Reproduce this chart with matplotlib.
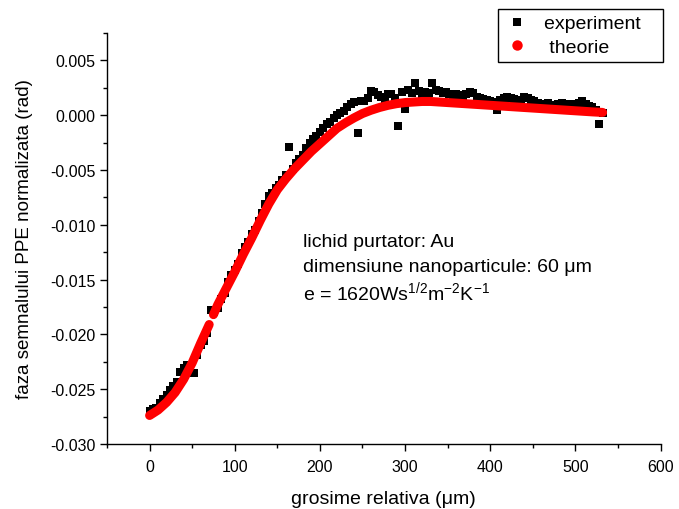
import numpy as np
import matplotlib.pyplot as plt
from matplotlib.lines import Line2D
from matplotlib.ticker import MultipleLocator, FormatStrFormatter

plt.rcParams['font.family'] = ['Liberation Sans', 'DejaVu Sans']

# experiment: thickness (um) and phase (1e-3 rad)
exp_x = [0, 4, 8, 12, 16, 20, 24, 28, 32, 36, 40, 44, 48, 52, 56, 60, 64, 68,
         72, 76, 80, 84, 88, 92, 96, 100, 104, 108, 112, 116, 120, 124, 128,
         132, 136, 140, 144, 148, 152, 156, 160, 164, 168, 172, 176, 180, 184,
         188, 192, 196, 200, 204, 208, 212, 216, 220, 224, 228, 232, 236, 240,
         245, 248, 252, 256, 260, 264, 268, 272, 276, 280, 284, 288, 292, 296,
         300, 304, 308, 312, 316, 320, 324, 328, 332, 336, 340, 344, 348, 352,
         356, 360, 364, 368, 372, 376, 380, 384, 388, 392, 396, 400, 404, 408,
         412, 416, 420, 424, 428, 432, 436, 440, 444, 448, 452, 456, 460, 464,
         468, 472, 476, 480, 484, 488, 492, 496, 500, 504, 508, 512, 516, 520,
         524, 528, 532]
exp_y = [-27.0, -26.8, -26.7, -26.3, -25.9, -25.5, -25.1, -24.7, -24.3, -23.4,
         -23.1, -22.8, -23.3, -23.5, -21.9, -21.0, -20.6, -19.9, -17.8, -18.0,
         -17.6, -16.8, -16.2, -15.2, -14.6, -14.1, -13.6, -12.6, -12.0, -11.6,
         -10.8, -10.5, -9.7, -8.9, -8.1, -7.4, -7.1, -6.6, -6.4, -5.9, -5.5,
         -2.9, -4.9, -4.4, -4.0, -3.6, -3.0, -2.5, -2.2, -1.9, -1.5, -1.2,
         -0.8, -0.6, -0.3, 0.0, 0.2, 0.4, 0.7, 1.0, 1.2, -1.6, 1.3, 1.3, 1.6,
         2.2, 2.1, 1.8, 1.7, 1.5, 1.9, 1.9, 1.6, -1.0, 2.1, 0.6, 2.3, 2.0, 2.9,
         2.2, 1.8, 2.1, 2.0, 2.9, 2.3, 2.2, 2.0, 2.1, 1.9, 1.8, 1.9, 1.8, 1.6,
         1.9, 2.1, 2.0, 1.7, 1.6, 1.5, 1.4, 1.3, 1.2, 0.5, 1.4, 1.6, 1.7, 1.6,
         1.5, 1.4, 1.3, 1.7, 1.6, 1.4, 1.3, 1.1, 1.0, 1.0, 1.1, 0.9, 0.9, 1.0,
         1.1, 1.0, 0.9, 1.0, 0.9, 1.1, 1.3, 1.0, 0.8, 0.7, 0.5, -0.8, 0.2]

# theory curve (1e-3 rad), small break near 72 um as in the original
th_x = [0, 10, 20, 30, 40, 50, 60, 70, 72, 75, 80, 90, 100, 110, 120, 130,
        140, 150, 160, 170, 180, 190, 200, 210, 220, 230, 240, 250, 260, 270,
        280, 290, 300, 310, 320, 330, 340, 350, 360, 370, 380, 390, 400, 410,
        420, 430, 440, 450, 460, 470, 480, 490, 500, 510, 520, 532]
th_y = [-27.4, -26.9, -26.2, -25.3, -24.1, -22.6, -20.8, -19.1, np.nan, -18.2,
        -17.3, -15.8, -14.3, -12.7, -11.2, -9.6, -8.1, -6.8, -5.8, -4.9, -4.1,
        -3.3, -2.6, -1.9, -1.2, -0.7, -0.25, 0.15, 0.45, 0.7, 0.9, 1.05, 1.15,
        1.2, 1.25, 1.25, 1.2, 1.15, 1.1, 1.05, 1.0, 0.95, 0.9, 0.85, 0.8,
        0.75, 0.7, 0.65, 0.6, 0.55, 0.5, 0.45, 0.4, 0.35, 0.3, 0.25]

fig = plt.figure(figsize=(6.79, 5.10), dpi=100)
ax = fig.add_axes([0.1576, 0.1275, 0.8152, 0.8059])

ax.plot(exp_x, np.array(exp_y) / 1000, 's', color='black', ms=5.2, mew=0)
ax.plot(th_x, np.array(th_y) / 1000, '-', color='red', lw=6.5,
        solid_capstyle='round')

ax.set_xlim(-50, 600)
ax.set_ylim(-0.030, 0.0075)
ax.xaxis.set_major_locator(MultipleLocator(100))
ax.xaxis.set_minor_locator(MultipleLocator(50))
ax.yaxis.set_major_locator(MultipleLocator(0.005))
ax.yaxis.set_minor_locator(MultipleLocator(0.0025))
ax.yaxis.set_major_formatter(FormatStrFormatter('%.3f'))
ax.spines['top'].set_visible(False)
ax.spines['right'].set_visible(False)
for s in ['left', 'bottom']:
    ax.spines[s].set_linewidth(1.0)
ax.tick_params(which='major', direction='out', length=5, width=1, labelsize=11.5)
ax.tick_params(which='minor', direction='out', length=3, width=1)
ax.tick_params(axis='x', pad=6)

ax.set_xlabel('grosime relativa (\u03bcm)', fontsize=14, labelpad=11)
ax.set_ylabel('faza semnalului PPE normalizata (rad)', fontsize=13.5, labelpad=12)

ax.text(180, -0.0115, 'lichid purtator: Au', fontsize=14, va='center')
ax.text(180, -0.0138, 'dimensiune nanoparticule: 60 \u03bcm', fontsize=14,
        va='center')
ax.text(180, -0.0161, r'e = 1620Ws$^{\mathregular{1/2}}$m$^{\mathregular{-2}}$K$^{\mathregular{-1}}$',
        fontsize=14, va='center')

handles = [Line2D([], [], marker='s', color='black', ls='none', ms=5.2, mew=0),
           Line2D([], [], marker='o', color='red', ls='none', ms=7.5, mew=0)]
leg = fig.legend(handles, ['experiment   ', ' theorie'], loc='upper right',
                 bbox_to_anchor=(663 / 679, 1 - 10 / 510), fontsize=14,
                 frameon=True, fancybox=False, edgecolor='black',
                 framealpha=1, borderaxespad=0, handlelength=1.4,
                 handletextpad=0.7, borderpad=0.3, labelspacing=0.3)
leg.get_frame().set_linewidth(1.0)

fig.savefig('out.png', dpi=100)
